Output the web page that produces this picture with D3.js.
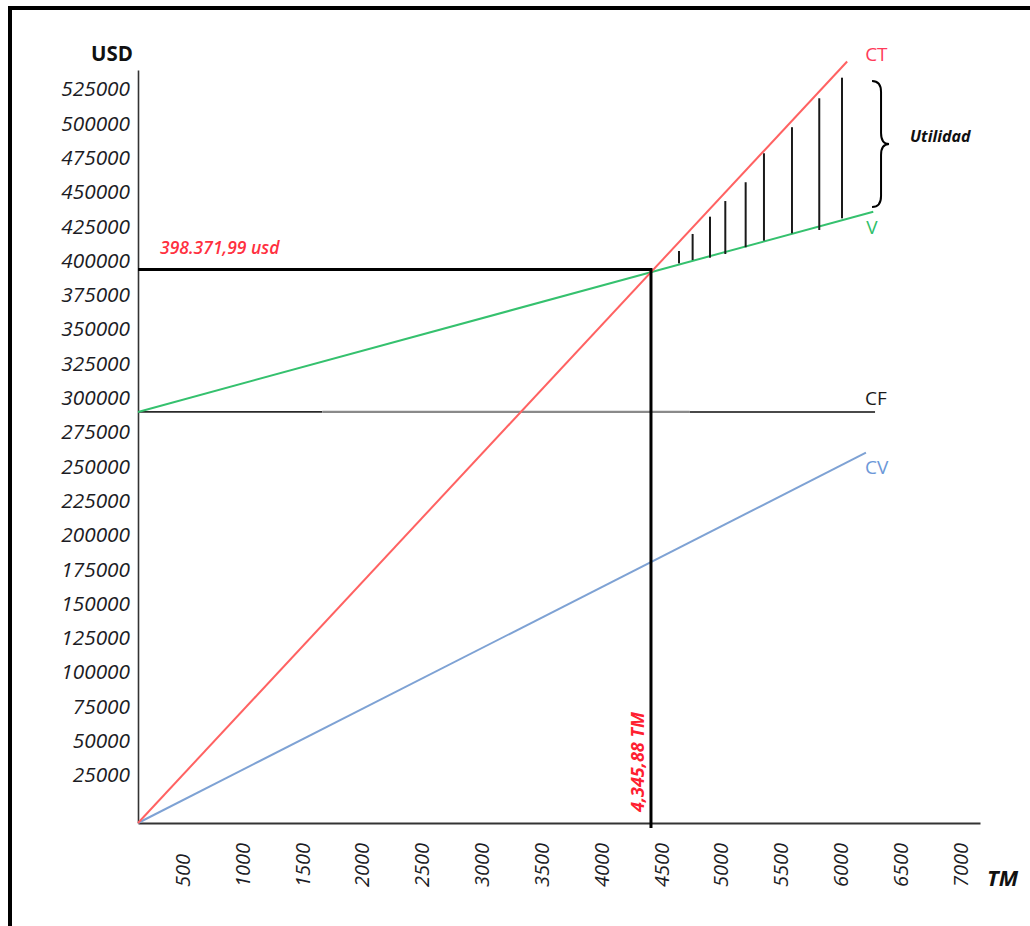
<!DOCTYPE html>
<html>
<head>
<meta charset="utf-8">
<script src="https://cdn.jsdelivr.net/npm/d3@7"></script>
<style>
  html, body { margin: 0; padding: 0; background: #fff; }
  svg { display: block; font-family: "Open Sans", "Noto Sans", sans-serif; }
</style>
</head>
<body>
<svg id="chart" width="1030" height="926"></svg>
<script>
// ---------- data ----------
const xTickValues = [500, 1000, 1500, 2000, 2500, 3000, 3500, 4000, 4500, 5000, 5500, 6000, 6500, 7000];
const yTickValues = [25000, 50000, 75000, 100000, 125000, 150000, 175000, 200000, 225000, 250000,
                     275000, 300000, 325000, 350000, 375000, 400000, 425000, 450000, 475000, 500000, 525000];

// series: [TM, USD] end points
const seriesNames = ["CT", "V", "CF", "CV"];
const ctPoints = [[0, 0], [5925, 555000]];
const vPoints  = [[0, 299600], [6143, 445550]];
const cfPoints = [[0, 299600], [6158, 299600]];
const cvPoints = [[0, 0], [6082, 269900]];

// CF line drawn in segments of different shade
const cfSegmentBreaks = [0, 1540, 4610, 6158];

// break-even point (position as drawn) and its annotation texts
const breakEvenTM = 4286;
const breakEvenUSD = 403400;
const breakEvenUSDText = "398.371,99 usd";
const breakEvenTMText = "4,345,88 TM";

// utilidad hatch lines
const hatchTM     = [4520, 4634, 4779, 4907, 5077, 5230, 5464, 5692, 5882];
const hatchTop    = [416900, 429300, 441900, 453300, 467000, 488100, 507100, 528200, 543200];
const hatchBottom = [407900, 410300, 412000, 414700, 419600, 424400, 429800, 432200, 440700];

// brace
const braceTM = 6133;
const braceTopUSD = 540800;
const braceBottomUSD = 449000;
const braceLabel = "Utilidad";

const yAxisTitle = "USD";
const xAxisTitle = "TM";

// ---------- drawing ----------
const svg = d3.select("#chart");
const x = d3.scaleLinear().domain([0, 7035]).range([138, 980]);
const y = d3.scaleLinear().domain([0, 548800]).range([823, 70]);

// outer frame (top and left edges visible)
svg.append("path")
  .attr("d", "M10,940 V8 H1040")
  .attr("fill", "none").attr("stroke", "#000").attr("stroke-width", 4);

// y axis
const gy = svg.append("g").attr("transform", `translate(${x(0)},0)`)
  .call(d3.axisLeft(y).tickValues(yTickValues).tickSize(0).tickPadding(8).tickSizeOuter(0)
        .tickFormat(d3.format("d")));
gy.select(".domain").attr("stroke", "#333").attr("stroke-width", 1.6);
gy.selectAll("text")
  .attr("font-family", "'Open Sans', sans-serif")
  .attr("font-style", "italic").attr("font-size", 20.8).attr("fill", "#1c1c24")
  .attr("transform", "translate(0,-13.5)");

// x axis
const gx = svg.append("g").attr("transform", `translate(0,${y(0)})`)
  .call(d3.axisBottom(x).tickValues(xTickValues).tickSize(0).tickSizeOuter(0)
        .tickFormat(d3.format("d")));
gx.select(".domain").attr("stroke", "#333").attr("stroke-width", 2);
gx.selectAll("text")
  .attr("y", null).attr("dy", null)
  .attr("text-anchor", "start").attr("dominant-baseline", "central")
  .attr("transform", "translate(-16,64) rotate(-90)")
  .attr("font-family", "'Open Sans', sans-serif")
  .attr("font-style", "italic").attr("font-size", 20).attr("fill", "#1c1c24");

// axis titles
svg.append("text").attr("x", 133).attr("y", 53).attr("text-anchor", "end")
  .attr("dominant-baseline", "central").attr("font-weight", "bold").attr("font-size", 20.5)
  .attr("fill", "#111").text(yAxisTitle);
svg.append("text").attr("x", 987).attr("y", 877).attr("text-anchor", "start")
  .attr("dominant-baseline", "central").attr("font-weight", "bold").attr("font-style", "italic")
  .attr("font-size", 22).attr("fill", "#111").text(xAxisTitle);

const line = d3.line().x(d => x(d[0])).y(d => y(d[1]));

// CF segments
const cfColors = ["#2a2a2a", "#8a8a8a", "#4a4a4a"];
const cfWidths = [1.6, 2.2, 2];
const cfSegs = d3.pairs(cfSegmentBreaks).map((p, i) => ({ pts: [[p[0], cfPoints[0][1]], [p[1], cfPoints[1][1]]], i }));
svg.selectAll("path.cf").data(cfSegs).join("path").attr("class", "cf")
  .attr("d", d => line(d.pts)).attr("fill", "none")
  .attr("stroke", d => cfColors[d.i]).attr("stroke-width", d => cfWidths[d.i]);

// CV
svg.append("path").attr("d", line(cvPoints)).attr("fill", "none")
  .attr("stroke", "#7ea2d4").attr("stroke-width", 2);
// V
svg.append("path").attr("d", line(vPoints)).attr("fill", "none")
  .attr("stroke", "#35c16e").attr("stroke-width", 2);

// hatch lines
svg.selectAll("line.hatch").data(hatchTM).join("line").attr("class", "hatch")
  .attr("x1", d => x(d)).attr("x2", d => x(d))
  .attr("y1", (d, i) => y(hatchTop[i])).attr("y2", (d, i) => y(hatchBottom[i]))
  .attr("stroke", "#1a1a1a").attr("stroke-width", 2);

// CT
svg.append("path").attr("d", line(ctPoints)).attr("fill", "none")
  .attr("stroke", "#ff6262").attr("stroke-width", 2);

// break-even lines
svg.append("path")
  .attr("d", `M${x(0)},${y(breakEvenUSD)} H${x(breakEvenTM)} V${y(0) + 5}`)
  .attr("fill", "none").attr("stroke", "#000").attr("stroke-width", 3);

// break-even annotations
svg.append("text").attr("x", x(0) + 22).attr("y", y(breakEvenUSD) - 23)
  .attr("dominant-baseline", "central").attr("font-style", "italic").attr("font-weight", 600)
  .attr("font-size", 17.5).attr("fill", "#ff3040").text(breakEvenUSDText);
svg.append("text")
  .attr("transform", `translate(${x(breakEvenTM) - 14},${y(0) - 11}) rotate(-90)`)
  .attr("dominant-baseline", "central").attr("text-anchor", "start")
  .attr("font-style", "italic").attr("font-weight", "bold")
  .attr("font-size", 18).attr("fill", "#ff2030").text(breakEvenTMText);

// series labels
const labelInfo = [
  { name: "CT", pt: ctPoints[1], dx: 18, dy: -7, color: "#ff3b5a" },
  { name: "V",  pt: vPoints[1],  dx: -7, dy: 15, color: "#2fbf6a" },
  { name: "CF", pt: cfPoints[1], dx: -10, dy: -14, color: "#1a1a1a" },
  { name: "CV", pt: cvPoints[1], dx: -1, dy: 14, color: "#6c98d8" }
];
svg.selectAll("text.series").data(labelInfo).join("text").attr("class", "series")
  .attr("x", d => x(d.pt[0]) + d.dx).attr("y", d => y(d.pt[1]) + d.dy)
  .attr("dominant-baseline", "central").attr("font-size", 19)
  .attr("fill", d => d.color).text(d => d.name);

// brace
const bx = x(braceTM), bt = y(braceTopUSD), bb = y(braceBottomUSD), bm = (bt + bb) / 2;
svg.append("path")
  .attr("d", `M${bx},${bt} Q${bx + 9},${bt} ${bx + 9},${bt + 11} L${bx + 9},${bm - 11} Q${bx + 9},${bm} ${bx + 17},${bm}` +
             ` Q${bx + 9},${bm} ${bx + 9},${bm + 11} L${bx + 9},${bb - 11} Q${bx + 9},${bb} ${bx},${bb}`)
  .attr("fill", "none").attr("stroke", "#000").attr("stroke-width", 2);
svg.append("text").attr("x", bx + 38).attr("y", bm - 8)
  .attr("dominant-baseline", "central").attr("font-weight", "bold").attr("font-style", "italic")
  .attr("font-size", 16).attr("fill", "#111").text(braceLabel);
</script>
</body>
</html>
